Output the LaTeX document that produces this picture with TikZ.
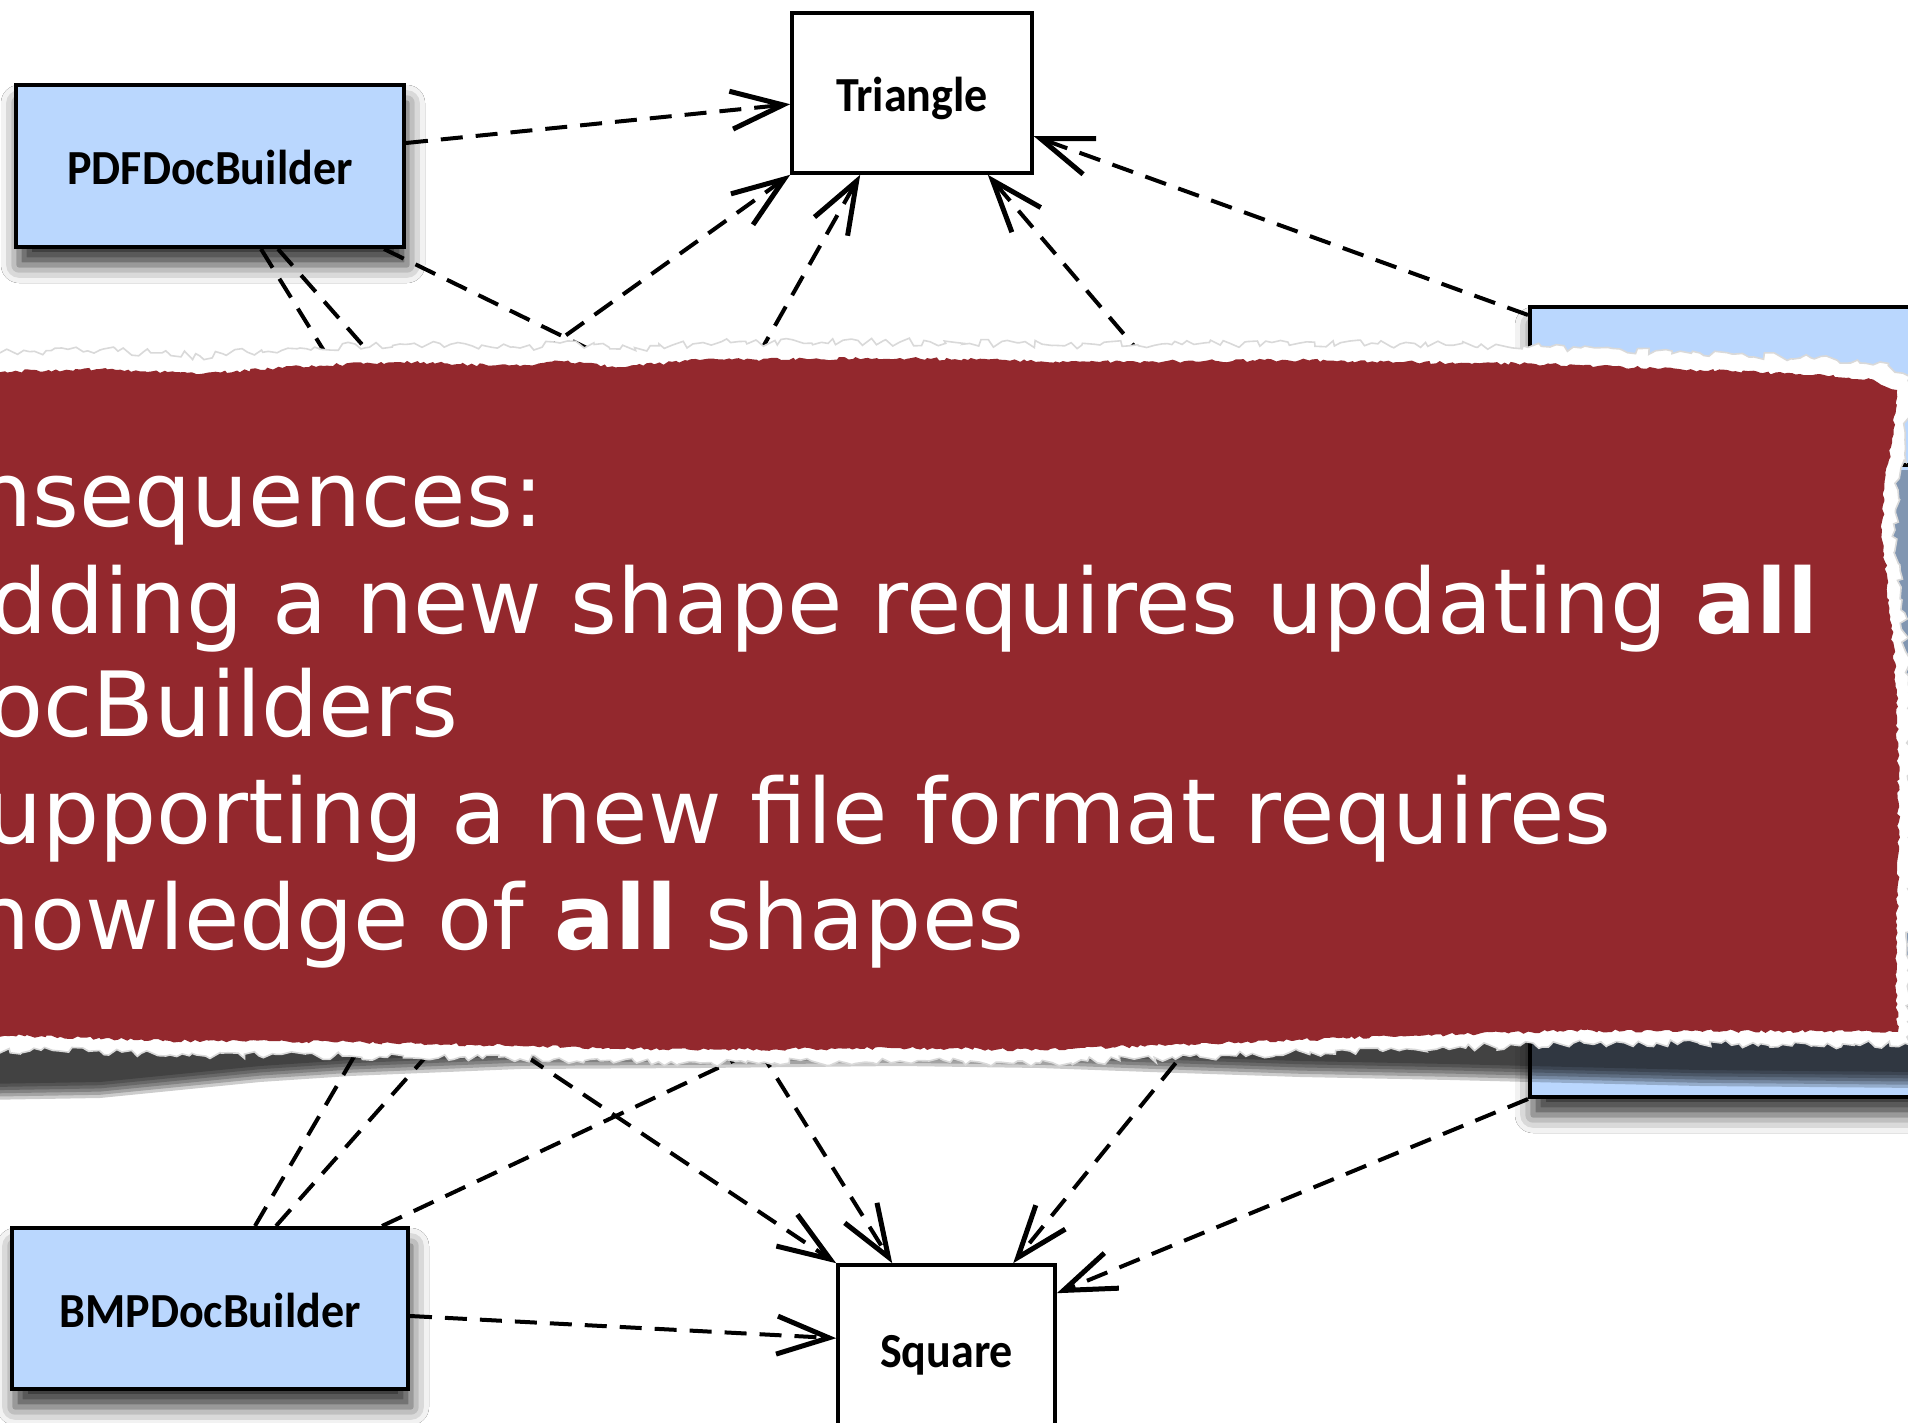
\documentclass[tikz,border=0pt]{standalone}
\usepackage{fontspec}
\usetikzlibrary{arrows.meta,calc,shadows.blur,decorations.pathmorphing}
\newfontfamily\boxfont[FakeStretch=0.94]{Carlito}
\newfontfamily\bannerfont{DejaVu Sans}
\definecolor{builderblue}{RGB}{186,215,254}
\definecolor{tornred}{RGB}{147,40,45}

% outline of the torn red banner (pixel units, y downwards)
\def\bannerpath{(-20,372) -- (100,369) -- (200,374) -- (300,366) -- (400,362) -- (520,366) -- (560,361) -- (620,367) -- (700,360) -- (900,358) -- (1100,362) -- (1300,360) -- (1400,362) -- (1550,364) -- (1700,370) -- (1800,374) -- (1870,379) -- (1897,390) -- (1892,440) -- (1884,490) -- (1882,530) -- (1889,600) -- (1897,690) -- (1899,850) -- (1896,960) -- (1898,1032) -- (1700,1031) -- (1560,1031) -- (1350,1038) -- (1200,1044) -- (1040,1050) -- (900,1048) -- (700,1050) -- (520,1046) -- (350,1042) -- (170,1041) -- (60,1037) -- (-20,1035) -- cycle}
% slightly larger outline for the white paper fringe
\def\fringepath{(-20,354) -- (100,350) -- (200,356) -- (300,348) -- (400,344) -- (520,348) -- (560,343) -- (620,349) -- (700,343) -- (900,342) -- (1100,345) -- (1300,343) -- (1400,344) -- (1550,347) -- (1700,353) -- (1800,358) -- (1880,362) -- (1912,378) -- (1905,440) -- (1898,490) -- (1895,530) -- (1902,600) -- (1910,690) -- (1912,850) -- (1909,960) -- (1911,1045) -- (1700,1044) -- (1560,1044) -- (1350,1051) -- (1200,1057) -- (1040,1063) -- (900,1061) -- (700,1063) -- (520,1059) -- (350,1056) -- (170,1055) -- (60,1051) -- (-20,1049) -- cycle}
% shadow cast by the banner
\def\castpath{(-20,1000) -- (1920,1000) -- (1920,1088) -- (1700,1086) -- (1530,1082) -- (1450,1080) -- (1300,1077) -- (1150,1072) -- (1040,1068) -- (900,1066) -- (700,1068) -- (520,1069) -- (350,1076) -- (260,1082) -- (170,1091) -- (100,1098) -- (-20,1100) -- cycle}

\begin{document}
\begin{tikzpicture}[x=0.5pt,y=-0.5pt,
  labelfont/.style={font=\boxfont\bfseries\fontsize{24.5}{28}\selectfont,
    text height=19pt,text depth=0pt},
  builder/.style={draw=black,line width=2pt,fill=builderblue,inner sep=0pt,labelfont,
    blur shadow={shadow xshift=1.5pt,shadow yshift=-9pt,shadow blur radius=9pt,shadow opacity=80}},
  shapebox/.style={draw=black,line width=1.8pt,fill=white,inner sep=0pt,labelfont},
  link/.style={line width=2pt,dash pattern=on 11pt off 6.5pt},
  dep/.style={link,-{Straight Barb[length=26pt,width=19pt,line width=2.5pt]}},
  linetext/.style={anchor=base west,inner sep=0pt,text=white,
    font=\bannerfont\fontsize{45}{54}\selectfont}]

\useasboundingbox (0,0) rectangle (1908,1423);
\fill[white] (0,0) rectangle (1908,1423);

% class boxes
\node[builder,minimum width=194pt,minimum height=81pt] (pdf) at (210,166) {PDFDocBuilder};
\node[builder,minimum width=198pt,minimum height=80.5pt] (bmp) at (210,1308.5) {BMPDocBuilder};
\node[builder,minimum width=285pt,minimum height=395pt] (rbox) at (1815,702) {};
\draw[line width=2pt] ($(rbox.north west)+(0,160)$) -- ($(rbox.north east)+(0,160)$);
\node[shapebox,minimum width=120pt,minimum height=80pt] (tri) at (912,93) {Triangle};
\node[shapebox,minimum width=108.5pt,minimum height=83pt] (sq) at (946.5,1348) {Square};

% far ends of the connectors
\coordinate (pA) at (478,600);
\coordinate (pB) at (587,600);
\coordinate (pC) at (898,500);
\coordinate (tD) at (196,600);
\coordinate (tE) at (620,600);
\coordinate (tF) at (1351,600);
\coordinate (bA) at (504,800);
\coordinate (bB) at (653,800);
\coordinate (bI) at (1075,900);
\coordinate (sJ) at (292,900);
\coordinate (sK) at (666,900);
\coordinate (sL) at (1308,900);

% dependencies
\draw[dep] ($(pdf.north east)+(0,60)$) -- ($(tri.north west)+(0,93)$);
\draw[link] ($(pdf.south west)+(247,0)$) -- (pA);
\draw[link] ($(pdf.south west)+(264,0)$) -- (pB);
\draw[link] ($(pdf.south east)+(-22,0)$) -- (pC);
\draw[dep] (tD) -- (tri.south west);
\draw[dep] (tE) -- ($(tri.south west)+(70,0)$);
\draw[dep] (tF) -- ($(tri.south east)+(-46,0)$);
\draw[dep] ($(rbox.north west)+(0,10)$) -- ($(tri.north east)+(0,125)$);
\draw[link] ($(bmp.north west)+(245,0)$) -- (bA);
\draw[link] ($(bmp.north west)+(266,0)$) -- (bB);
\draw[link] ($(bmp.north east)+(-28,0)$) -- (bI);
\draw[dep] (sJ) -- (sq.north west);
\draw[dep] (sK) -- ($(sq.north west)+(56,0)$);
\draw[dep] (sL) -- ($(sq.north west)+(177,0)$);
\draw[dep] (rbox.south west) -- ($(sq.north east)+(0,30)$);
\draw[dep] ($(bmp.north east)+(0,90)$) -- ($(sq.north west)+(0,75)$);

% shadow under the banner
\foreach \i in {0,...,5}{
  \begin{scope}[yshift=\i*1.6pt]
    \fill[black,opacity=0.2] \castpath;
  \end{scope}}
\fill[black,opacity=0.3] (1885,470) -- (1920,470) -- (1920,1040) -- (1885,1040) -- cycle;

% torn banner: white fringe, then red paper
\pgfmathsetseed{7}
\fill[white,draw=black!15,line width=0.8pt,decorate,
  decoration={random steps,segment length=3pt,amplitude=2pt}] \fringepath;
\fill[tornred,decorate,
  decoration={random steps,segment length=2pt,amplitude=0.8pt}] \bannerpath;

% banner text
\node[linetext] (l1) at (-25,526) {nsequences:};
\node[linetext] (l2) at (-10,633) {dding a new shape requires updating \textbf{all}};
\node[linetext] (l3) at (-12,736) {ocBuilders};
\node[linetext] (l4) at (-15,843) {upporting a new file format requires};
\node[linetext] (l5) at (-27,949) {nowledge of \textbf{all} shapes};
\end{tikzpicture}
\end{document}
